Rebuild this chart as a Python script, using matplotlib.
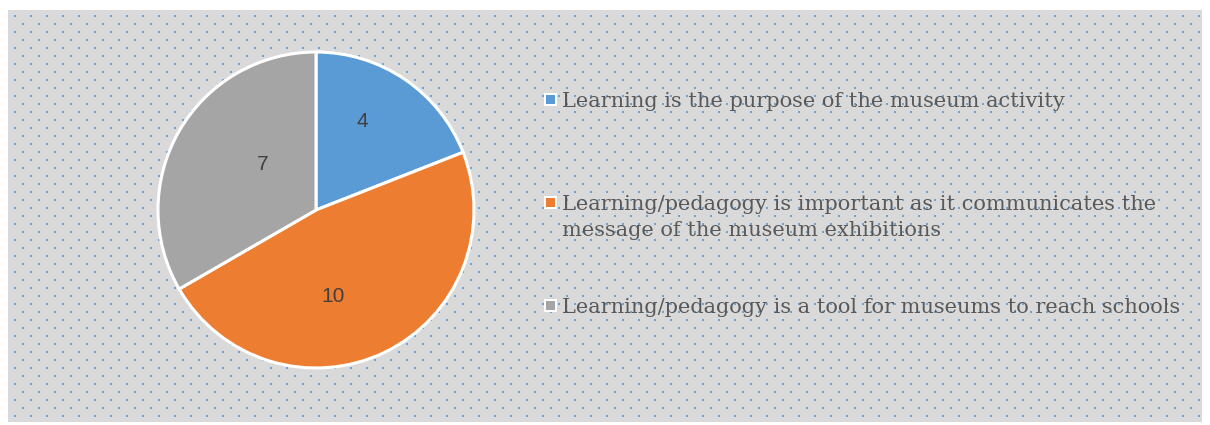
import numpy as np
import matplotlib
matplotlib.use('Agg')
import matplotlib.pyplot as plt
from matplotlib.patches import Rectangle

# --- dados ---
categories = [
    'Learning is the purpose of the museum activity',
    'Learning/pedagogy is important as it communicates the\nmessage of the museum exhibitions',
    'Learning/pedagogy is a tool for museums to reach schools',
]
values = [4, 10, 7]
colors = ['#5B9BD5', '#ED7D31', '#A5A5A5']
# posição dos rótulos dentro do círculo (unidades do raio)
label_xy = [(0.29, 0.56), (0.11, -0.55), (-0.34, 0.29)]

W, H = 1210, 425
fig = plt.figure(figsize=(W / 100, H / 100), dpi=100)

# fundo cinza com pontinhos azuis
bg = fig.add_axes([0, 0, 1, 1])
bg.set_xlim(0, W)
bg.set_ylim(H, 0)
bg.axis('off')
bg.add_patch(Rectangle((8, 10), 1194, 412, facecolor='#D9D9D9', edgecolor='none'))
rows = np.arange(16, 420, 8)
xs, ys = [], []
for i, y in enumerate(rows):
    cols = np.arange(15 + 8 * (i % 2), 1200, 16)
    xs.extend(cols)
    ys.extend([y] * len(cols))
bg.scatter(xs, ys, s=3.5, marker='s', color='#5B9BD5', alpha=0.85, linewidths=0)

# pizza
cx, cy, r = 316, 210, 158
ax = fig.add_axes([(cx - r) / W, (H - cy - r) / H, 2 * r / W, 2 * r / H])
ax.pie(values, colors=colors, startangle=90, counterclock=False, radius=1,
       wedgeprops=dict(edgecolor='white', linewidth=2.2))
for v, (x, y) in zip(values, label_xy):
    ax.text(x, y, str(v), ha='center', va='center', fontsize=15,
            color='#404040', family='Liberation Sans')
ax.set_xlim(-1.0, 1.0)
ax.set_ylim(-1.0, 1.0)
ax.set_aspect('equal')

# legenda manual
entry_y = [100, 203, 306]
for lab, col, y in zip(categories, colors, entry_y):
    bg.add_patch(Rectangle((543.5, y - 7), 13, 13, facecolor='white', edgecolor='none'))
    bg.add_patch(Rectangle((545.5, y - 5), 9, 9, facecolor=col, edgecolor='none'))
    for k, line in enumerate(lab.split('\n')):
        bg.text(562, y + 7 + 26 * k, line, ha='left', va='baseline', fontsize=15,
                color='#595959', family='DejaVu Serif')

fig.savefig('out.png', dpi=100)
